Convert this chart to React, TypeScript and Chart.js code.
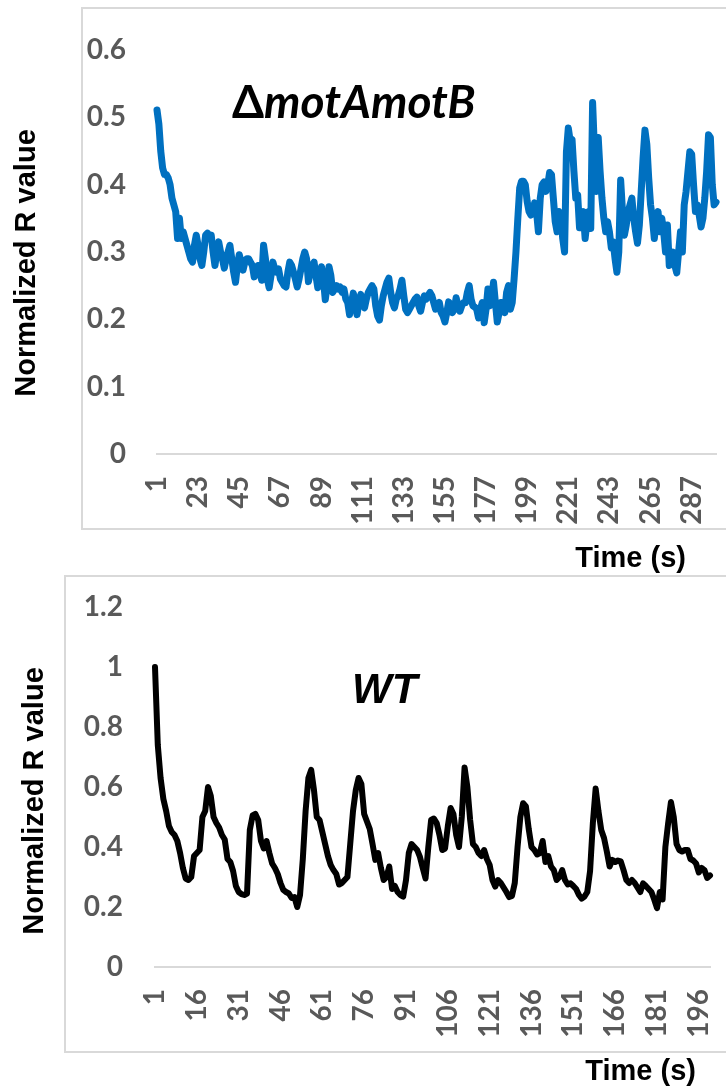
import React, { useEffect, useRef } from "react";
import { Chart, registerables } from "chart.js";

Chart.register(...registerables);

// ---------------- DATA ----------------
// ΔmotAmotB panel: time points 1..300 s
const motTimeLabels: string[] = Array.from({ length: 300 }, (_, i) => String(i + 1));
const motValues: number[] = [
  0.511, 0.49, 0.45, 0.425, 0.415, 0.415, 0.41, 0.40, 0.38, 0.37,
  0.36, 0.32, 0.35, 0.32, 0.33, 0.32, 0.31, 0.30, 0.29, 0.285,
  0.31, 0.325, 0.31, 0.29, 0.28, 0.30, 0.325, 0.328, 0.32, 0.325,
  0.30, 0.28, 0.30, 0.315, 0.30, 0.29, 0.276, 0.29, 0.30, 0.31,
  0.29, 0.27, 0.255, 0.28, 0.296, 0.285, 0.273, 0.285, 0.29, 0.29,
  0.285, 0.28, 0.263, 0.27, 0.28, 0.27, 0.258, 0.31, 0.29, 0.26,
  0.247, 0.265, 0.285, 0.275, 0.27, 0.275, 0.26, 0.255, 0.25, 0.248,
  0.27, 0.285, 0.28, 0.27, 0.26, 0.248, 0.26, 0.275, 0.29, 0.30,
  0.29, 0.256, 0.27, 0.28, 0.285, 0.265, 0.247, 0.26, 0.278, 0.26,
  0.229, 0.25, 0.278, 0.265, 0.24, 0.245, 0.25, 0.245, 0.248, 0.24,
  0.245, 0.23, 0.225, 0.207, 0.225, 0.239, 0.225, 0.207, 0.225, 0.237,
  0.225, 0.217, 0.23, 0.24, 0.245, 0.25, 0.245, 0.22, 0.205, 0.199,
  0.22, 0.235, 0.245, 0.255, 0.261, 0.24, 0.225, 0.217, 0.23, 0.235,
  0.245, 0.258, 0.235, 0.215, 0.21, 0.215, 0.22, 0.225, 0.23, 0.233,
  0.22, 0.212, 0.225, 0.235, 0.23, 0.235, 0.24, 0.235, 0.225, 0.215,
  0.22, 0.225, 0.21, 0.205, 0.196, 0.21, 0.226, 0.22, 0.21, 0.215,
  0.232, 0.22, 0.212, 0.22, 0.225, 0.225, 0.24, 0.25, 0.23, 0.22,
  0.218, 0.215, 0.202, 0.215, 0.225, 0.195, 0.215, 0.245, 0.22, 0.23,
  0.255, 0.225, 0.196, 0.21, 0.225, 0.22, 0.21, 0.24, 0.25, 0.215,
  0.225, 0.26, 0.30, 0.35, 0.395, 0.405, 0.405, 0.40, 0.375, 0.36,
  0.355, 0.36, 0.373, 0.36, 0.33, 0.38, 0.40, 0.404, 0.39, 0.40,
  0.418, 0.415, 0.38, 0.345, 0.33, 0.36, 0.355, 0.32, 0.30, 0.449,
  0.484, 0.465, 0.467, 0.42, 0.38, 0.385, 0.336, 0.35, 0.36, 0.32,
  0.345, 0.36, 0.335, 0.522, 0.45, 0.39, 0.47, 0.42, 0.38, 0.35,
  0.33, 0.345, 0.33, 0.306, 0.315, 0.29, 0.27, 0.30, 0.407, 0.36,
  0.325, 0.34, 0.36, 0.37, 0.38, 0.35, 0.33, 0.313, 0.34, 0.39,
  0.44, 0.481, 0.46, 0.41, 0.37, 0.35, 0.32, 0.345, 0.36, 0.33,
  0.35, 0.33, 0.30, 0.34, 0.28, 0.29, 0.30, 0.28, 0.269, 0.30,
  0.33, 0.30, 0.37, 0.39, 0.42, 0.449, 0.445, 0.40, 0.36, 0.37,
  0.355, 0.337, 0.35, 0.38, 0.42, 0.474, 0.47, 0.40, 0.37, 0.374,
];
const motYRange: number[] = [0, 0.6];
const motYStep = 0.1;
const motYTickLabels: string[] = ["0", "0.1", "0.2", "0.3", "0.4", "0.5", "0.6"];
const motXTickEvery = 22;

// WT panel: time points 1..200 s
const wtTimeLabels: string[] = Array.from({ length: 200 }, (_, i) => String(i + 1));
const wtValues: number[] = [
  1.0, 0.74, 0.63, 0.56, 0.52, 0.47, 0.45, 0.44, 0.42, 0.38,
  0.33, 0.295, 0.29, 0.30, 0.37, 0.38, 0.39, 0.50, 0.52, 0.60,
  0.57, 0.50, 0.48, 0.465, 0.44, 0.425, 0.36, 0.35, 0.32, 0.27,
  0.25, 0.243, 0.24, 0.245, 0.457, 0.505, 0.51, 0.49, 0.42, 0.395,
  0.42, 0.38, 0.345, 0.33, 0.31, 0.28, 0.257, 0.25, 0.245, 0.23,
  0.233, 0.20, 0.24, 0.36, 0.52, 0.63, 0.657, 0.59, 0.50, 0.49,
  0.45, 0.41, 0.37, 0.34, 0.323, 0.31, 0.275, 0.28, 0.29, 0.30,
  0.41, 0.52, 0.59, 0.63, 0.61, 0.51, 0.485, 0.46, 0.41, 0.357,
  0.38, 0.33, 0.29, 0.30, 0.335, 0.26, 0.27, 0.25, 0.24, 0.235,
  0.29, 0.38, 0.41, 0.40, 0.39, 0.367, 0.33, 0.295, 0.40, 0.49,
  0.495, 0.48, 0.44, 0.39, 0.395, 0.47, 0.53, 0.51, 0.44, 0.40,
  0.50, 0.665, 0.60, 0.49, 0.41, 0.40, 0.38, 0.37, 0.39, 0.36,
  0.34, 0.29, 0.268, 0.29, 0.28, 0.265, 0.25, 0.233, 0.237, 0.28,
  0.40, 0.50, 0.546, 0.535, 0.46, 0.40, 0.39, 0.375, 0.38, 0.42,
  0.35, 0.37, 0.335, 0.323, 0.29, 0.30, 0.323, 0.29, 0.275, 0.279,
  0.27, 0.26, 0.24, 0.228, 0.235, 0.25, 0.32, 0.48, 0.595, 0.52,
  0.457, 0.43, 0.385, 0.335, 0.357, 0.35, 0.355, 0.352, 0.323, 0.29,
  0.28, 0.29, 0.28, 0.265, 0.25, 0.279, 0.27, 0.26, 0.25, 0.225,
  0.196, 0.25, 0.225, 0.40, 0.48, 0.55, 0.50, 0.41, 0.39, 0.385,
  0.39, 0.39, 0.36, 0.355, 0.345, 0.315, 0.33, 0.323, 0.297, 0.305,
];
const wtYRange: number[] = [0, 1.2];
const wtYStep = 0.2;
const wtYTickLabels: string[] = ["0", "0.2", "0.4", "0.6", "0.8", "1", "1.2"];
const wtXTickEvery = 15;

const yAxisTitle = "Normalized R value";
const xAxisTitle = "Time (s)";

// ---------------- STYLE ----------------
const TICK_FONT = "Lato";
const TITLE_FONT = "'Liberation Sans', Arial, sans-serif";
const TICK_COLOR = "#595959";
const FRAME_COLOR = "#d9d9d9";

type PanelCfg = {
  top: number;
  height: number;
  labels: string[];
  values: number[];
  color: string;
  lineWidth: number;
  yRange: number[];
  yStep: number;
  yTickLabels: string[];
  xEvery: number;
  padTop: number;
  padRight: number;
  yWidth: number;
  xHeight: number;
  yTickPad: number;
  xTickPad: number;
  box: { x: number; y: number; w: number; h: number };
  yTitle: { x: number; cy: number };
  xTitle: { right: number; base: number };
  note: (ctx: CanvasRenderingContext2D) => void;
};

function drawMotNote(ctx: CanvasRenderingContext2D) {
  ctx.fillStyle = "#000";
  ctx.textBaseline = "alphabetic";
  ctx.textAlign = "left";
  ctx.font = "bold 46px Lato";
  const x0 = 232;
  const base = 118;
  ctx.fillText("Δ", x0, base);
  const w = ctx.measureText("Δ").width;
  ctx.font = "italic bold 46px Lato";
  ctx.fillText("motAmotB", x0 + w, base);
}

function drawWtNote(ctx: CanvasRenderingContext2D) {
  ctx.fillStyle = "#000";
  ctx.textBaseline = "alphabetic";
  ctx.textAlign = "left";
  ctx.font = "italic bold 42px 'Liberation Sans', Arial, sans-serif";
  ctx.fillText("WT", 352, 128);
}

const panels: PanelCfg[] = [
  {
    top: 0,
    height: 575,
    labels: motTimeLabels,
    values: motValues,
    color: "#0070C0",
    lineWidth: 7,
    yRange: motYRange,
    yStep: motYStep,
    yTickLabels: motYTickLabels,
    xEvery: motXTickEvery,
    padTop: 50,
    padRight: 10,
    yWidth: 157,
    xHeight: 121,
    yTickPad: 31,
    xTickPad: 22,
    box: { x: 82, y: 8, w: 700, h: 521 },
    yTitle: { x: 35, cy: 263 },
    xTitle: { right: 686, base: 567 },
    note: drawMotNote,
  },
  {
    top: 575,
    height: 512,
    labels: wtTimeLabels,
    values: wtValues,
    color: "#000000",
    lineWidth: 6,
    yRange: wtYRange,
    yStep: wtYStep,
    yTickLabels: wtYTickLabels,
    xEvery: wtXTickEvery,
    padTop: 32,
    padRight: 16,
    yWidth: 155,
    xHeight: 120,
    yTickPad: 32,
    xTickPad: 22,
    box: { x: 65, y: 1, w: 720, h: 476 },
    yTitle: { x: 43, cy: 226 },
    xTitle: { right: 696, base: 505 },
    note: drawWtNote,
  },
];

function Panel({ cfg }: { cfg: PanelCfg }) {
  const ref = useRef<HTMLCanvasElement | null>(null);
  useEffect(() => {
    let chart: Chart | null = null;
    let cancelled = false;
    const build = () => {
      if (cancelled || !ref.current) return;
      const decor = {
        id: "decor",
        beforeDraw(c: any) {
          const ctx = c.ctx as CanvasRenderingContext2D;
          ctx.save();
          ctx.fillStyle = "#ffffff";
          ctx.fillRect(0, 0, c.width, c.height);
          ctx.strokeStyle = FRAME_COLOR;
          ctx.lineWidth = 2;
          ctx.strokeRect(cfg.box.x, cfg.box.y, cfg.box.w, cfg.box.h);
          ctx.restore();
        },
        afterDraw(c: any) {
          const ctx = c.ctx as CanvasRenderingContext2D;
          ctx.save();
          ctx.fillStyle = "#000";
          ctx.font = `bold 29px ${TITLE_FONT}`;
          ctx.save();
          ctx.translate(cfg.yTitle.x, cfg.yTitle.cy);
          ctx.rotate(-Math.PI / 2);
          ctx.textAlign = "center";
          ctx.textBaseline = "alphabetic";
          ctx.fillText(yAxisTitle, 0, 0);
          ctx.restore();
          ctx.textAlign = "right";
          ctx.textBaseline = "alphabetic";
          ctx.fillText(xAxisTitle, cfg.xTitle.right, cfg.xTitle.base);
          cfg.note(ctx);
          ctx.restore();
        },
      };
      chart = new Chart(ref.current, {
        type: "line",
        data: {
          labels: cfg.labels,
          datasets: [
            {
              data: cfg.values,
              borderColor: cfg.color,
              backgroundColor: cfg.color,
              borderWidth: cfg.lineWidth,
              pointRadius: 0,
              pointHoverRadius: 0,
              tension: 0,
              borderJoinStyle: "round",
              borderCapStyle: "round",
              fill: false,
              clip: false as any,
            },
          ],
        },
        options: {
          animation: false,
          responsive: false,
          maintainAspectRatio: false,
          devicePixelRatio: 1,
          events: [],
          layout: { padding: { top: cfg.padTop, right: cfg.padRight, left: 0, bottom: 0 } },
          plugins: {
            legend: { display: false },
            tooltip: { enabled: false },
            title: { display: false },
          },
          scales: {
            x: {
              type: "category",
              offset: false,
              grid: { display: false, drawTicks: false },
              border: { display: true, color: FRAME_COLOR, width: 2 },
              ticks: {
                autoSkip: false,
                minRotation: 90,
                maxRotation: 90,
                padding: cfg.xTickPad,
                color: TICK_COLOR,
                font: { family: TICK_FONT, weight: "bold", size: 28 },
              },
              afterBuildTicks: (scale: any) => {
                scale.ticks = scale.ticks.filter((t: any) => t.value % cfg.xEvery === 0);
              },
              afterFit: (scale: any) => {
                scale.height = cfg.xHeight;
                scale.paddingLeft = 0;
                scale.paddingRight = 0;
              },
            },
            y: {
              type: "linear",
              min: cfg.yRange[0],
              max: cfg.yRange[1],
              grid: { display: false, drawTicks: false },
              border: { display: false },
              ticks: {
                stepSize: cfg.yStep,
                padding: cfg.yTickPad,
                color: TICK_COLOR,
                font: { family: TICK_FONT, weight: "bold", size: 28 },
                callback: (_v: any, idx: number) => cfg.yTickLabels[idx],
              },
              afterFit: (scale: any) => {
                scale.width = cfg.yWidth;
                scale.paddingTop = 0;
                scale.paddingBottom = 0;
              },
            },
          },
        },
        plugins: [decor],
      } as any);
    };
    const fontsReady = (document as any).fonts
      ? Promise.all([
          (document as any).fonts.load("bold 28px Lato"),
          (document as any).fonts.load("italic bold 46px Lato"),
          (document as any).fonts.load("bold 29px 'Liberation Sans'"),
          (document as any).fonts.load("italic bold 42px 'Liberation Sans'"),
        ]).catch(() => null)
      : Promise.resolve(null);
    fontsReady.then(build);
    return () => {
      cancelled = true;
      if (chart) chart.destroy();
    };
  }, [cfg]);
  return (
    <canvas
      ref={ref}
      width={726}
      height={cfg.height}
      style={{ position: "absolute", left: 0, top: cfg.top, width: 726, height: cfg.height }}
    />
  );
}

export default function App() {
  return (
    <div style={{ position: "absolute", left: 0, top: 0, width: 726, height: 1087, background: "#fff", overflow: "hidden" }}>
      {panels.map((p, i) => (
        <Panel key={i} cfg={p} />
      ))}
    </div>
  );
}
